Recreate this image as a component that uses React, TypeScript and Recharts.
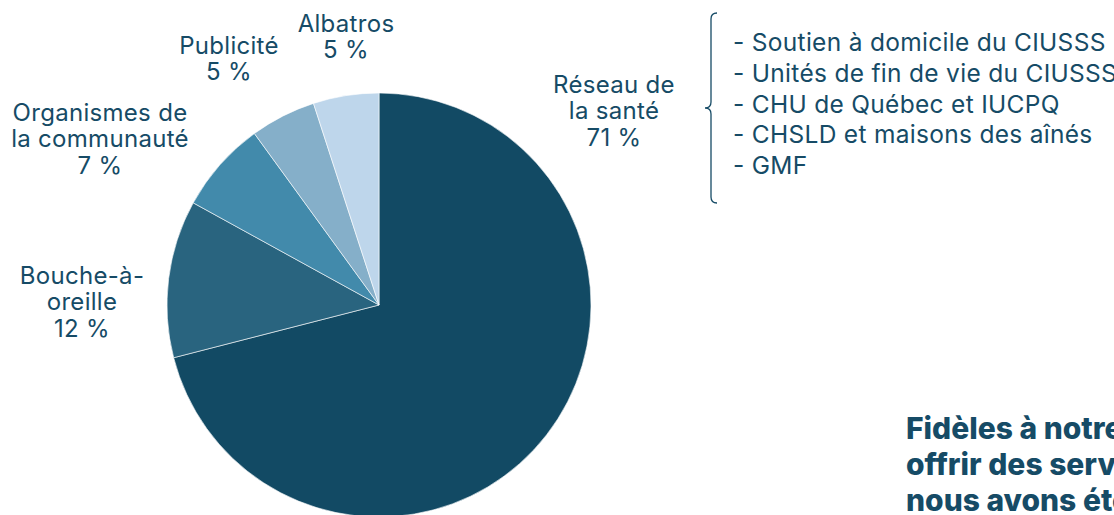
import { PieChart, Pie, Cell } from "recharts";

const CATEGORIES = ["Réseau de la santé", "Bouche-à-oreille", "Organismes de la communauté", "Publicité", "Albatros"];
const SHARES = [71, 12, 7, 5, 5];
const LABEL_LINES = [["Réseau de", "la santé"], ["Bouche-à-", "oreille"], ["Organismes de", "la communauté"], ["Publicité"], ["Albatros"]];
const SOURCES_RESEAU = [
  "Soutien à domicile du CIUSSS",
  "Unités de fin de vie du CIUSSS",
  "CHU de Québec et IUCPQ",
  "CHSLD et maisons des aînés",
  "GMF",
];
const CLOSING_LINES = ["Fidèles à notre", "offrir des serv", "nous avons été"];

const COLORS = ["#124a64", "#29647f", "#428aab", "#85afc9", "#bed6eb"];
const TEXT = "#164b66";
const FONT = "Inter, 'Noto Sans', sans-serif";

// label block centres, relative to the pie centre
const LABEL_OFFSETS = [
  { dx: 235, dy: -195 },
  { dx: -297, dy: -4 },
  { dx: -279, dy: -167 },
  { dx: -150, dy: -247 },
  { dx: -33, dy: -269 },
];

const data = CATEGORIES.map((name, i) => ({ name, value: SHARES[i] }));

const renderLabel = (props: any) => {
  const { cx, cy, index, value } = props;
  const off = LABEL_OFFSETS[index];
  const lines = [...LABEL_LINES[index], `${value} %`];
  const lh = 26.5;
  const top = cy + off.dy - ((lines.length - 1) * lh) / 2;
  return (
    <text
      key={`lbl-${index}`}
      x={cx + off.dx}
      y={top}
      textAnchor="middle"
      dominantBaseline="central"
      fill={TEXT}
      fontFamily={FONT}
      fontSize={24}
      letterSpacing={0.3}
    >
      {lines.map((l, j) => (
        <tspan key={j} x={cx + off.dx} dy={j === 0 ? 0 : lh}>
          {l}
        </tspan>
      ))}
    </text>
  );
};

export default function App() {
  return (
    <div style={{ position: "absolute", left: 0, top: 0, width: 1114, height: 515, overflow: "hidden", background: "#fff" }}>
      <PieChart width={1114} height={515} margin={{ top: 0, right: 0, bottom: 0, left: 0 }}>
        <Pie
          data={data}
          dataKey="value"
          nameKey="name"
          cx={379}
          cy={305}
          outerRadius={212}
          startAngle={90}
          endAngle={-270}
          stroke="#ffffff"
          strokeWidth={0.6}
          label={renderLabel}
          labelLine={false}
          isAnimationActive={false}
        >
          {data.map((d, i) => (
            <Cell key={d.name} fill={COLORS[i]} />
          ))}
        </Pie>
      </PieChart>

      <svg style={{ position: "absolute", left: 700, top: 10 }} width={30} height={200}>
        <path
          d="M17 3 Q11 3 11 9 L11 92 Q11 98 5 98 Q11 98 11 104 L11 187 Q11 193 17 193"
          fill="none"
          stroke={TEXT}
          strokeWidth={1.3}
        />
      </svg>

      <div
        style={{
          position: "absolute",
          left: 733,
          top: 27,
          fontFamily: FONT,
          fontSize: 24.5,
          letterSpacing: 0.3,
          lineHeight: "30.8px",
          color: TEXT,
          whiteSpace: "nowrap",
        }}
      >
        {SOURCES_RESEAU.map((s) => (
          <div key={s}>- {s}</div>
        ))}
      </div>

      <div
        style={{
          position: "absolute",
          left: 906,
          top: 410,
          fontFamily: FONT,
          fontSize: 30,
          fontWeight: 800,
          lineHeight: "36px",
          color: TEXT,
          whiteSpace: "nowrap",
        }}
      >
        {CLOSING_LINES.map((s) => (
          <div key={s}>{s}</div>
        ))}
      </div>
    </div>
  );
}
